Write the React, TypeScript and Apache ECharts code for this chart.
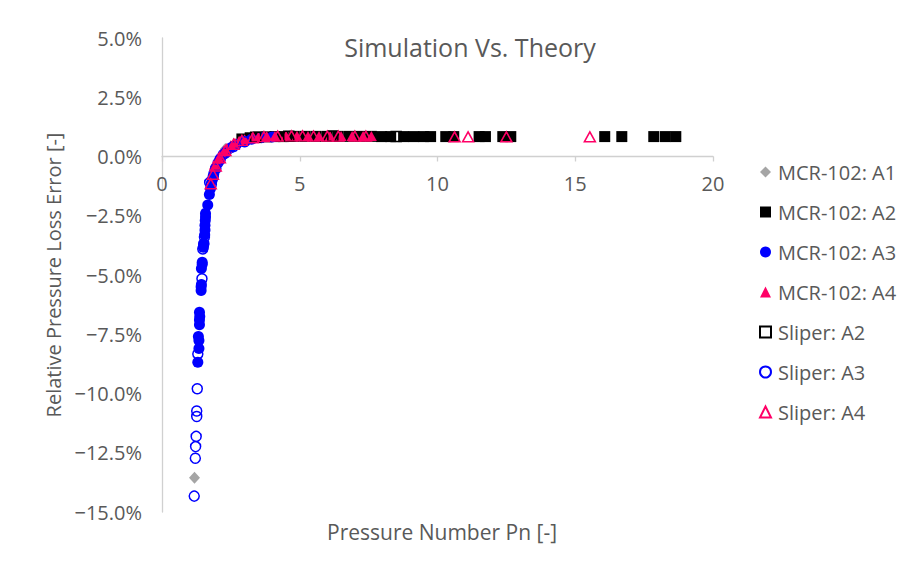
import React, { useEffect, useRef } from "react";
import * as echarts from "echarts";

// Relative pressure loss error (fraction) against pressure number Pn
const mcrA1: number[][] = [
  [1.18, -0.1356], [1.8, -0.0105], [2.3, 0.0032], [3.1, 0.0076], [4.5, 0.0084],
];

const mcrA2: number[][] = [
  [2.9, 0.0074], [3.2, 0.0079], [3.5, 0.0082], [3.8, 0.0083], [4.1, 0.0084],
  [4.4, 0.0084], [4.8, 0.0085], [5.2, 0.0085], [5.6, 0.0085], [6.0, 0.0085],
  [6.4, 0.0085], [6.8, 0.0085], [7.2, 0.0085], [7.6, 0.0085], [7.97, 0.0084],
  [8.3, 0.0084], [8.77, 0.0084], [9.14, 0.0084], [9.5, 0.0084], [9.75, 0.0084],
  [10.3, 0.0084], [10.59, 0.0084], [11.51, 0.0084], [11.74, 0.0084], [12.37, 0.0084],
  [12.66, 0.0084], [16.07, 0.0084], [16.69, 0.0084], [17.85, 0.0084], [18.27, 0.0084],
  [18.65, 0.0084],
];

const mcrA3: number[][] = [
  [1.30, -0.0868], [1.34, -0.0810], [1.34, -0.0776], [1.32, -0.0760], [1.36, -0.0710],
  [1.36, -0.0690], [1.37, -0.0675], [1.36, -0.0657], [1.42, -0.0565], [1.42, -0.0550],
  [1.43, -0.0540], [1.43, -0.0473], [1.46, -0.0455], [1.46, -0.0446], [1.50, -0.0383],
  [1.51, -0.0370], [1.55, -0.0330], [1.56, -0.0310], [1.56, -0.0290], [1.57, -0.0270],
  [1.58, -0.0255], [1.58, -0.0240], [1.66, -0.0205], [1.72, -0.0160], [1.76, -0.0135],
  [1.82, -0.0100], [1.88, -0.0072], [1.95, -0.0048], [2.03, -0.0027], [2.12, -0.0008],
  [2.22, 0.0008], [2.35, 0.0023], [2.50, 0.0037], [2.70, 0.0051], [2.95, 0.0064],
  [3.25, 0.0073], [3.60, 0.0079], [4.00, 0.0082],
];

const mcrA4: number[][] = [
  [1.90, -0.0035], [1.97, -0.0018], [2.05, -0.0003], [2.15, 0.0012], [2.25, 0.0025],
  [2.35, 0.0036], [2.50, 0.0048], [2.65, 0.0058], [2.80, 0.0066], [3.00, 0.0073],
  [3.25, 0.0079], [3.50, 0.0083], [3.80, 0.0086], [4.10, 0.0087], [4.50, 0.0088],
  [4.90, 0.0088], [5.30, 0.0087], [5.70, 0.0087], [6.10, 0.0087], [6.50, 0.0087],
  [6.90, 0.0087], [7.30, 0.0087], [7.60, 0.0086],
];

const sliperA2: number[][] = [
  [3.4, 0.0081], [4.6, 0.0085], [6.2, 0.0086], [8.5, 0.0084],
];

const sliperA3: number[][] = [
  [1.17, -0.1433], [1.21, -0.1273], [1.22, -0.1224], [1.24, -0.1181], [1.26, -0.1097],
  [1.26, -0.1074], [1.28, -0.0980], [1.30, -0.0833], [1.45, -0.0516], [1.48, -0.0390],
  [1.52, -0.0368], [1.54, -0.0340], [1.73, -0.0110], [1.79, -0.0118], [1.86, -0.0085],
  [1.95, -0.0052], [2.10, -0.0015], [2.30, 0.0015], [2.60, 0.0042], [3.00, 0.0062],
];

const sliperA4: number[][] = [
  [1.77, -0.0115], [1.85, -0.0075], [1.95, -0.0040], [2.10, -0.0005], [2.30, 0.0025],
  [2.60, 0.0052], [2.90, 0.0068], [3.30, 0.0079], [3.70, 0.0084], [4.20, 0.0086],
  [4.70, 0.0087], [5.10, 0.0087], [5.50, 0.0086], [6.00, 0.0086], [6.40, 0.0086],
  [7.00, 0.0086], [7.40, 0.0086], [10.62, 0.0083], [11.11, 0.0083], [12.50, 0.0083],
  [15.53, 0.0083],
];

const xTicks = { min: 0, max: 20, step: 5 };
const yTicks = { min: -0.15, max: 0.05, step: 0.025 };

const FONT = "'Open Sans', sans-serif";
const TEXT = "#595959";
const AXIS = "#D0D0D0";
const BLUE = "#0000FF";
const PINK = "#FF0066";

const GRID_TOP = 38;
const GRID_BOTTOM = 51;
const CHART_H = 563;

const pct = (v: number) => {
  const n = Math.round(v * 1000) / 10;
  const s = Math.abs(n).toFixed(1) + "%";
  return n < 0 ? "\u2212" + s : s;
};

export default function App() {
  const ref = useRef<HTMLDivElement>(null);

  useEffect(() => {
    const chart = echarts.init(ref.current!, null, { renderer: "svg" });
    const filled = (color: string) => ({ color, opacity: 1 });
    const open = (color: string) => ({
      color: "rgba(255,255,255,0)",
      borderColor: color,
      borderWidth: 1.5,
      opacity: 1,
    });
    // lift the horizontal axis (line, ticks and labels) up to y = 0
    const plotH = CHART_H - GRID_TOP - GRID_BOTTOM;
    const zeroFromBottom = (plotH * (0 - yTicks.min)) / (yTicks.max - yTicks.min);

    chart.setOption({
      animation: false,
      backgroundColor: "#fff",
      title: [
        {
          text: "Simulation Vs. Theory",
          left: 465,
          top: 29,
          textAlign: "center",
          textStyle: { fontFamily: FONT, fontSize: 25, fontWeight: "normal", color: TEXT },
        },
        {
          text: "Pressure Number Pn [-]",
          left: 437,
          top: 516,
          textAlign: "center",
          textStyle: { fontFamily: FONT, fontSize: 21, fontWeight: "normal", color: TEXT },
        },
      ],
      grid: { left: 162, right: 194, top: GRID_TOP, bottom: GRID_BOTTOM, containLabel: false },
      legend: {
        orient: "vertical",
        left: 759,
        top: 162,
        padding: 0,
        itemWidth: 11,
        itemHeight: 11,
        itemGap: 20,
        textStyle: { fontFamily: FONT, fontSize: 20, color: TEXT, padding: [0, 0, 0, 2] },
        data: [
          "MCR-102: A1",
          "MCR-102: A2",
          "MCR-102: A3",
          "MCR-102: A4",
          "Sliper: A2",
          "Sliper: A3",
          "Sliper: A4",
        ],
      },
      xAxis: {
        type: "value",
        min: xTicks.min,
        max: xTicks.max,
        interval: xTicks.step,
        offset: -zeroFromBottom,
        axisLine: { show: true, onZero: false, lineStyle: { color: AXIS, width: 1.3 } },
        axisTick: { show: true, inside: false, length: 5, lineStyle: { color: AXIS, width: 1.3 } },
        splitLine: { show: false },
        axisLabel: { fontFamily: FONT, fontSize: 20, color: TEXT, margin: 17 },
      },
      yAxis: {
        type: "value",
        min: yTicks.min,
        max: yTicks.max,
        interval: yTicks.step,
        name: "Relative Pressure Loss Error [-]",
        nameLocation: "middle",
        nameRotate: 90,
        nameGap: 96,
        nameTextStyle: { fontFamily: FONT, fontSize: 20, color: TEXT },
        axisLine: { show: true, onZero: false, lineStyle: { color: AXIS, width: 1.3 } },
        axisTick: { show: false },
        splitLine: { show: false },
        axisLabel: { fontFamily: FONT, fontSize: 20, color: TEXT, margin: 20, formatter: pct },
      },
      series: [
        {
          name: "MCR-102: A1",
          type: "scatter",
          data: mcrA1,
          symbol: "diamond",
          symbolSize: [11, 12],
          itemStyle: filled("#A5A5A5"),
        },
        {
          name: "MCR-102: A2",
          type: "scatter",
          data: mcrA2,
          symbol: "rect",
          symbolSize: 11,
          itemStyle: filled("#000000"),
        },
        {
          name: "MCR-102: A3",
          type: "scatter",
          data: mcrA3,
          symbol: "circle",
          symbolSize: 11,
          itemStyle: filled(BLUE),
        },
        {
          name: "MCR-102: A4",
          type: "scatter",
          data: mcrA4,
          symbol: "triangle",
          symbolSize: [11, 10],
          itemStyle: filled(PINK),
        },
        {
          name: "Sliper: A2",
          type: "scatter",
          data: sliperA2,
          symbol: "rect",
          symbolSize: 10,
          itemStyle: open("#000000"),
        },
        {
          name: "Sliper: A3",
          type: "scatter",
          data: sliperA3,
          symbol: "circle",
          symbolSize: 10,
          itemStyle: open(BLUE),
        },
        {
          name: "Sliper: A4",
          type: "scatter",
          data: sliperA4,
          symbol: "triangle",
          symbolSize: [11, 10],
          itemStyle: open(PINK),
        },
      ],
    });
    return () => chart.dispose();
  }, []);

  return (
    <div
      ref={ref}
      style={{ position: "fixed", left: 0, top: 0, width: 907, height: 563, background: "#fff" }}
    />
  );
}
